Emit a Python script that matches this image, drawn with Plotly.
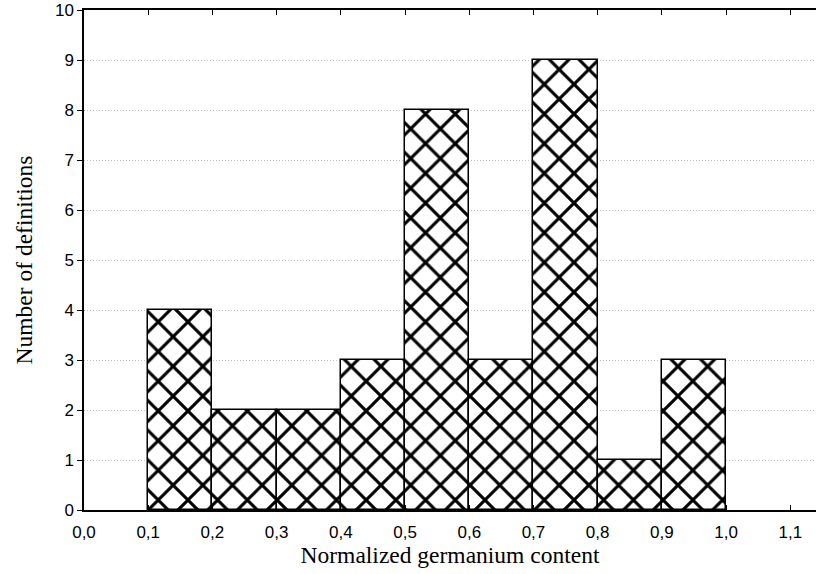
import plotly.graph_objects as go

bin_left = [0.1, 0.2, 0.3, 0.4, 0.5, 0.6, 0.7, 0.8, 0.9]
counts = [4, 2, 2, 3, 8, 3, 9, 1, 3]
bin_width = 0.1
x_ticks = [0.0, 0.1, 0.2, 0.3, 0.4, 0.5, 0.6, 0.7, 0.8, 0.9, 1.0, 1.1]
y_ticks = list(range(0, 11))

centers = [b + bin_width / 2 for b in bin_left]

fig = go.Figure(go.Bar(
    x=centers, y=counts, width=bin_width,
    marker=dict(color="white",
                line=dict(color="black", width=1.5),
                pattern=dict(shape="x", size=21, solidity=0.27,
                             fgcolor="black", fgopacity=1, bgcolor="white",
                             fillmode="overlay")),
))

fig.update_layout(
    width=816, height=574, autosize=False,
    margin=dict(l=84, r=0, t=10, b=64, autoexpand=False),
    plot_bgcolor="white", paper_bgcolor="white",
    separators=",.",
    showlegend=False,
    bargap=0,
)
fig.update_xaxes(
    range=[0, 1.14], tickvals=x_ticks, tickformat=".1f",
    ticks="inside", ticklen=5, tickcolor="black", tickwidth=1.2,
    showline=True, linecolor="black", linewidth=1.5, mirror="ticks",
    showgrid=False, zeroline=False, automargin=False,
    ticklabelstandoff=6,
    tickfont=dict(family="Liberation Sans, Arial", size=17, color="black"),
    title=dict(text="Normalized germanium content",
               font=dict(family="Liberation Serif, Times New Roman", size=23.5, color="black"),
               standoff=5),
)
fig.update_yaxes(
    range=[0, 10], tickvals=y_ticks,
    ticks="outside", ticklen=5, tickcolor="black", tickwidth=1.2,
    showline=True, linecolor="black", linewidth=1.5, mirror=False,
    showgrid=True, gridcolor="#c4c4c4", griddash="1px,2px", gridwidth=1,
    zeroline=False, automargin=False,
    tickfont=dict(family="Liberation Sans, Arial", size=17, color="black"),
    title=dict(text="Number of definitions",
               font=dict(family="Liberation Serif, Times New Roman", size=23.5, color="black"),
               standoff=16),
)

fig.write_html("out.html", config={"responsive": False, "displayModeBar": False},
               post_script="document.body.style.margin='0';document.body.style.overflow='hidden';")
